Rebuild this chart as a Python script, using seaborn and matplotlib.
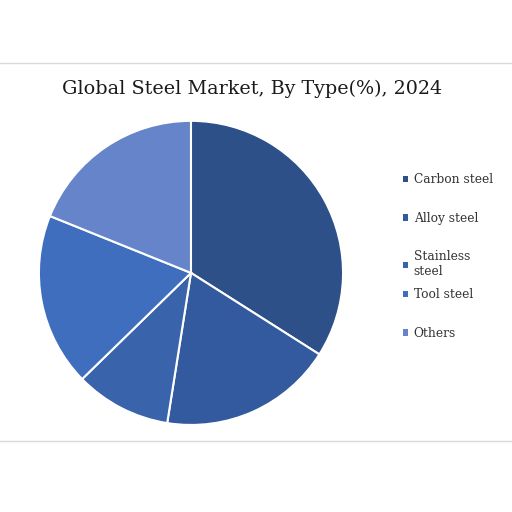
import matplotlib.pyplot as plt
import seaborn as sns
from matplotlib.lines import Line2D
from matplotlib.patches import Patch

# Data
types = ['Carbon steel', 'Alloy steel', 'Stainless\nsteel', 'Tool steel', 'Others']
shares = [34.0, 18.5, 10.2, 18.4, 18.9]
colors = ['#2D5089', '#335A9E', '#3963AB', '#3F6EBE', '#6584C9']

sns.set_theme(style='white')
plt.rcParams['font.family'] = ['DejaVu Serif']

fig = plt.figure(figsize=(5.12, 5.12), dpi=100)
ax = fig.add_axes([0.076, 0.170, 0.594, 0.594])
ax.pie(shares, colors=colors, startangle=90, counterclock=False,
       wedgeprops={'edgecolor': 'white', 'linewidth': 1.5})
ax.set_xlim(-1.0, 1.0)
ax.set_ylim(-1.0, 1.0)
ax.set_aspect('equal')

# frame lines top and bottom
fig.add_artist(Line2D([0, 1], [0.877, 0.877], color='#D9D9D9', lw=1))
fig.add_artist(Line2D([0, 1], [0.139, 0.139], color='#D9D9D9', lw=1))

fig.text(0.492, 0.826, 'Global Steel Market, By Type(%), 2024',
         ha='center', va='center', fontsize=13.8, color='#1a1a1a')

# legend split in two so the two-line label does not push the rest down
handles = [Patch(facecolor=c, edgecolor='none') for c in colors]
leg_kw = dict(loc='upper left', frameon=False, fontsize=8.8,
              handlelength=0.45, handleheight=0.45, handletextpad=0.45,
              labelspacing=2.08, labelcolor='#333333')
fig.legend(handles[:3], types[:3], bbox_to_anchor=(0.765, 0.683), **leg_kw)
fig.legend(handles[3:], types[3:], bbox_to_anchor=(0.765, 0.4584), **leg_kw)

fig.savefig('out.png', dpi=100)
